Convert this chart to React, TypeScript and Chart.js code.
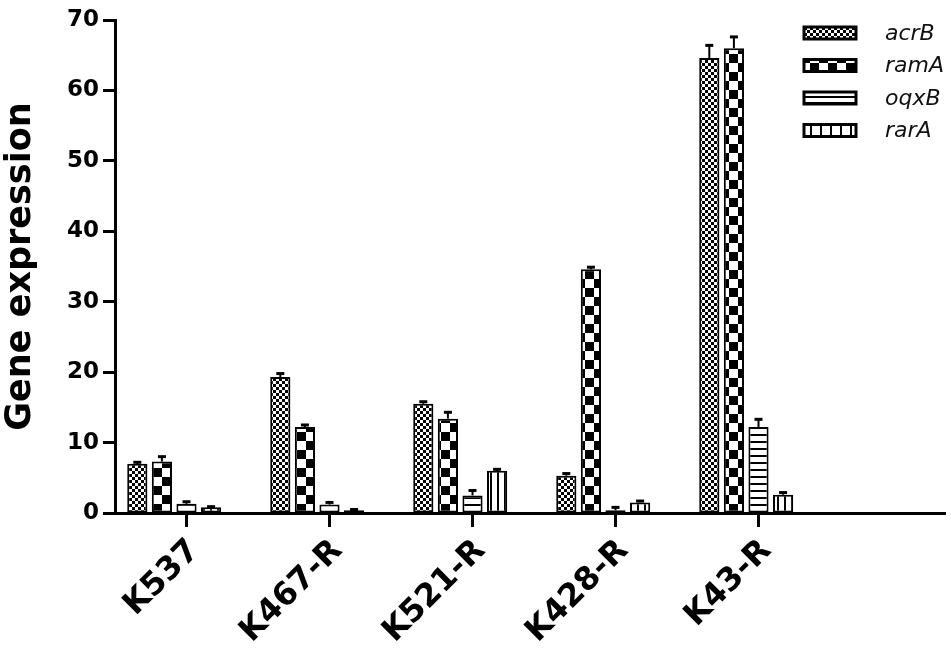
import React, { useEffect, useRef } from 'react';
import { Chart, registerables } from 'chart.js';

Chart.register(...registerables);

const categories = ['K537', 'K467-R', 'K521-R', 'K428-R', 'K43-R'];
const seriesNames = ['acrB', 'ramA', 'oqxB', 'rarA'];
const acrB = [7.0, 19.3, 15.5, 5.3, 64.6];
const ramA = [7.3, 12.2, 13.4, 34.6, 66.0];
const oqxB = [1.3, 1.2, 2.5, 0.4, 12.2];
const rarA = [0.8, 0.4, 6.0, 1.5, 2.6];
const acrBErr = [0.2, 0.5, 0.3, 0.3, 1.8];
const ramAErr = [0.7, 0.3, 0.9, 0.3, 1.6];
const oqxBErr = [0.3, 0.3, 0.7, 0.4, 1.1];
const rarAErr = [0.1, 0.1, 0.2, 0.2, 0.3];
const yMin = 0;
const yMax = 70;
const yStep = 10;

function makePattern(kind: string, legend = false): CanvasPattern | string {
  const c = document.createElement('canvas');
  const g = c.getContext('2d');
  if (!g) return '#fff';
  if (kind === 'fine') {
    c.width = 6; c.height = 6;
    g.fillStyle = '#000'; g.fillRect(0, 0, 6, 6);
    g.fillStyle = '#fff'; g.fillRect(0, 0, 3, 3); g.fillRect(3, 3, 3, 3);
  } else if (kind === 'coarse') {
    c.width = 18; c.height = 18;
    g.fillStyle = '#fff'; g.fillRect(0, 0, 18, 18);
    g.fillStyle = '#000'; g.fillRect(9, 0, 9, 9); g.fillRect(0, 9, 9, 9);
  } else if (kind === 'hlines') {
    const s = legend ? 6 : 7;
    c.width = s; c.height = s;
    g.fillStyle = '#fff'; g.fillRect(0, 0, s, s);
    g.fillStyle = '#000'; g.fillRect(0, 0, s, 2);
  } else {
    const s = legend ? 10 : 7;
    c.width = s; c.height = s;
    g.fillStyle = '#fff'; g.fillRect(0, 0, s, s);
    g.fillStyle = '#000'; g.fillRect(0, 0, 2, s);
  }
  const p = g.createPattern(c, 'repeat');
  return p || '#fff';
}

const errorBarPlugin = {
  id: 'errorBars',
  afterDatasetsDraw(chart: any) {
    const ctx = chart.ctx;
    const yScale = chart.scales.y;
    ctx.save();
    ctx.strokeStyle = '#000';
    chart.data.datasets.forEach((ds: any, i: number) => {
      if (!ds.errors) return;
      const meta = chart.getDatasetMeta(i);
      meta.data.forEach((el: any, j: number) => {
        const v = ds.data[j];
        const e = ds.errors[j];
        if (v == null || !e) return;
        const yTop = yScale.getPixelForValue(v + e);
        ctx.lineWidth = 2;
        ctx.beginPath();
        ctx.moveTo(el.x, el.y);
        ctx.lineTo(el.x, yTop);
        ctx.stroke();
        ctx.lineWidth = 3;
        ctx.beginPath();
        ctx.moveTo(el.x - 4, yTop);
        ctx.lineTo(el.x + 4, yTop);
        ctx.stroke();
      });
    });
    ctx.restore();
  },
};

const axisExtendPlugin = {
  id: 'axisExtend',
  afterDraw(chart: any) {
    const ctx = chart.ctx;
    const { right, bottom } = chart.chartArea;
    ctx.save();
    ctx.strokeStyle = '#000';
    ctx.lineWidth = 3;
    ctx.beginPath();
    ctx.moveTo(right - 2, bottom + 0.5);
    ctx.lineTo(946, bottom + 0.5);
    ctx.stroke();
    ctx.restore();
  },
};

const legendPlugin = {
  id: 'patternLegend',
  afterDraw(chart: any) {
    const ctx = chart.ctx;
    ctx.save();
    let row = 0;
    chart.data.datasets.forEach((ds: any) => {
      if (!ds.label) return;
      const cy = 33 + row * 32.5;
      const bx = 804;
      const bw = 52;
      const bh = 12;
      ctx.fillStyle = ds.legendFill || ds.backgroundColor;
      ctx.fillRect(bx, cy - bh / 2, bw, bh);
      ctx.strokeStyle = '#000';
      ctx.lineWidth = 3;
      ctx.strokeRect(bx, cy - bh / 2, bw, bh);
      ctx.fillStyle = '#111';
      ctx.font = "italic 22px 'DejaVu Sans'";
      ctx.textAlign = 'left';
      ctx.textBaseline = 'middle';
      ctx.fillText(ds.label, 885, cy + 1);
      row++;
    });
    ctx.restore();
  },
};

export default function App() {
  const ref = useRef<HTMLCanvasElement>(null);
  useEffect(() => {
    if (!ref.current) return;
    const kinds = ['fine', 'coarse', 'hlines', 'vlines'];
    const fills = kinds.map((k) => makePattern(k));
    const legendFills = kinds.map((k) => makePattern(k, true));
    const values = [acrB, ramA, oqxB, rarA];
    const errs = [acrBErr, ramAErr, oqxBErr, rarAErr];
    const datasets: any[] = seriesNames.map((name, i) => ({
      label: name,
      data: values[i],
      errors: errs[i],
      backgroundColor: fills[i],
      legendFill: legendFills[i],
      borderColor: '#000',
      borderWidth: 2,
      borderSkipped: false,
    }));
    datasets.push({ label: '', data: categories.map(() => null), backgroundColor: 'rgba(0,0,0,0)', borderWidth: 0 });
    const tickFont = { family: 'DejaVu Sans', weight: 'bold' as const, size: 23 };
    const chart = new Chart(ref.current, {
      type: 'bar',
      data: { labels: categories, datasets },
      options: {
        responsive: false,
        animation: false,
        layout: { padding: { left: 0, top: 20, right: 121, bottom: 0 } },
        datasets: { bar: { categoryPercentage: 0.86, barPercentage: 0.82 } },
        plugins: { legend: { display: false }, tooltip: { enabled: false } },
        scales: {
          x: {
            type: 'category',
            offset: true,
            grid: { display: true, offset: false, drawOnChartArea: false, drawTicks: true, tickLength: 14, tickWidth: 3, tickColor: '#000', color: '#000' },
            border: { display: true, color: '#000', width: 3 },
            ticks: { color: '#000', font: { family: 'DejaVu Sans', weight: 'bold', size: 32 }, maxRotation: 45, minRotation: 45, autoSkip: false, padding: 5, labelOffset: 8 },
            afterFit: (s: any) => { s.height = 142; },
          },
          y: {
            min: yMin,
            max: yMax,
            grid: { display: true, drawOnChartArea: false, drawTicks: true, tickLength: 12, tickWidth: 3, tickColor: '#000', color: '#000' },
            border: { display: true, color: '#000', width: 3 },
            ticks: { stepSize: yStep, color: '#000', font: tickFont, padding: 4 },
            title: { display: true, text: 'Gene expression', color: '#000', font: { family: 'DejaVu Sans', weight: 'bold', size: 35 }, padding: 0 },
            afterFit: (s: any) => { s.width = 115; },
          },
        },
      } as any,
      plugins: [errorBarPlugin, axisExtendPlugin, legendPlugin],
    });
    return () => chart.destroy();
  }, []);
  return (
    <div style={{ position: 'absolute', left: 0, top: 0, width: 951, height: 655, background: '#fff' }}>
      <canvas ref={ref} width={951} height={655} />
    </div>
  );
}
